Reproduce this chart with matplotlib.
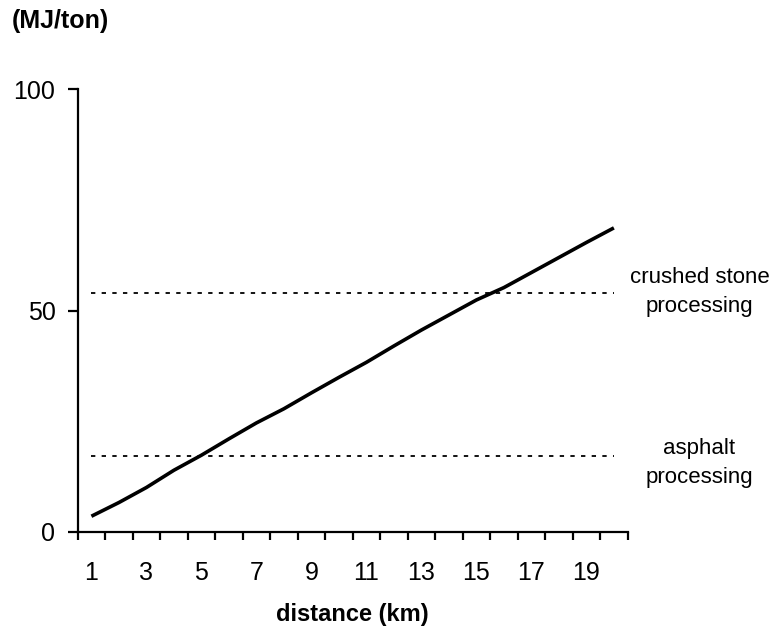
import matplotlib.pyplot as plt
import numpy as np

plt.rcParams['font.family'] = ['Liberation Sans', 'DejaVu Sans']

distance = list(range(1, 21))
energy = [3.5, 6.6, 10.0, 13.9, 17.3, 21.0, 24.6, 27.8, 31.4, 34.9,
          38.3, 42.0, 45.6, 49.0, 52.4, 55.2, 58.6, 62.0, 65.4, 68.7]
crushed_stone = 54.0
asphalt = 17.1
x_labels = [str(i) for i in range(1, 21, 2)]

fig = plt.figure(figsize=(7.72, 6.3), dpi=100)
ax = fig.add_axes([0.1006, 0.156, 0.7124, 0.702])

ax.plot(distance, energy, color='black', lw=2.6, solid_capstyle='butt')
ax.plot([distance[0], distance[-1]], [crushed_stone] * 2, color='black',
        lw=1.3, dashes=(2.4, 3.5))
ax.plot([distance[0], distance[-1]], [asphalt] * 2, color='black',
        lw=1.3, dashes=(2.4, 3.5))

ax.set_xlim(0.5, 20.5)
ax.set_ylim(0, 100)
for s in ['top', 'right']:
    ax.spines[s].set_visible(False)
for s in ['left', 'bottom']:
    ax.spines[s].set_linewidth(1.6)

# category boundaries get the tick marks, labels sit on odd categories
ax.set_xticks(np.arange(0.5, 21, 1))
ax.set_xticklabels([])
ax.tick_params(axis='x', which='major', direction='out', length=6, width=1.6)
ax.set_xticks(range(1, 21, 2), minor=True)
ax.set_xticklabels(x_labels, minor=True)
ax.tick_params(axis='x', which='minor', length=0, pad=21, labelsize=18)

ax.set_yticks([0, 50, 100])
ax.tick_params(axis='y', direction='out', length=7, width=1.6, pad=9,
               labelsize=18)

ax.set_xlabel('distance (km)', fontsize=17, fontweight='bold')
ax.xaxis.set_label_coords(0.5, -0.188)
ax.xaxis.label.set_va('center')
fig.text(0.078, 0.967, '(MJ/ton)', fontsize=18, fontweight='bold',
         ha='center', va='center')

fig.text(0.906, 0.5365, 'crushed stone\nprocessing', fontsize=16,
         ha='center', va='center', linespacing=1.55)
fig.text(0.906, 0.265, 'asphalt\nprocessing', fontsize=16,
         ha='center', va='center', linespacing=1.55)

fig.savefig('out.png', dpi=100)
